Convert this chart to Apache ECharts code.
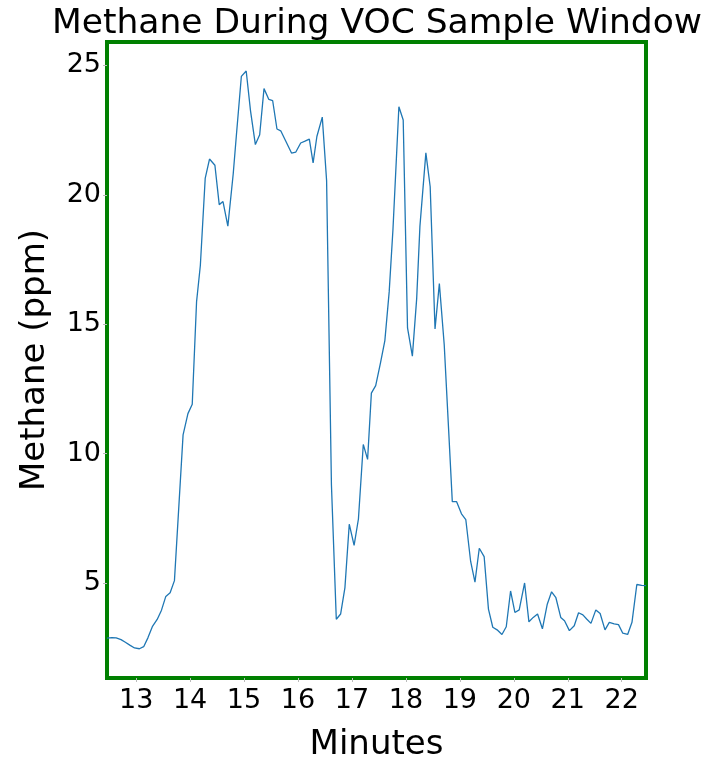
<!DOCTYPE html>
<html>
<head>
<meta charset="utf-8">
<script src="https://cdn.jsdelivr.net/npm/echarts@6/dist/echarts.min.js"></script>
<style>
html,body{margin:0;padding:0;background:#fff;}
#chart{width:710px;height:767px;}
</style>
</head>
<body>
<div id="chart"></div>
<script>
const minutes = [
  12.46, 12.55, 12.63, 12.72, 12.80, 12.89, 12.97, 13.06, 13.14, 13.22,
  13.30, 13.39, 13.47, 13.55, 13.63, 13.71, 13.87, 13.96, 14.04, 14.12,
  14.19, 14.28, 14.36, 14.46, 14.54, 14.61, 14.70, 14.80, 14.86, 14.95,
  15.04, 15.12, 15.21, 15.29, 15.37, 15.46, 15.53, 15.61, 15.68, 15.77,
  15.88, 15.96, 16.05, 16.13, 16.21, 16.28, 16.35, 16.45, 16.53, 16.62,
  16.71, 16.79, 16.87, 16.95, 17.04, 17.12, 17.21, 17.29, 17.36, 17.44,
  17.53, 17.61, 17.69, 17.76, 17.87, 17.95, 18.03, 18.12, 18.20, 18.26,
  18.37, 18.45, 18.54, 18.62, 18.71, 18.79, 18.86, 18.94, 19.03, 19.11,
  19.20, 19.28, 19.36, 19.45, 19.53, 19.61, 19.69, 19.78, 19.86, 19.94,
  20.02, 20.10, 20.20, 20.28, 20.36, 20.44, 20.53, 20.62, 20.70, 20.78,
  20.87, 20.94, 21.03, 21.12, 21.20, 21.28, 21.35, 21.43, 21.52, 21.60,
  21.69, 21.77, 21.86, 21.94, 22.02, 22.11, 22.19, 22.28, 22.37, 22.45
];
const methane = [
  2.88, 2.90, 2.89, 2.82, 2.72, 2.60, 2.50, 2.47, 2.55, 2.90,
  3.32, 3.60, 3.96, 4.49, 4.63, 5.10, 10.73, 11.55, 11.91, 15.87,
  17.27, 20.63, 21.38, 21.14, 19.62, 19.74, 18.79, 20.82, 22.35, 24.57,
  24.78, 23.24, 21.94, 22.32, 24.10, 23.68, 23.64, 22.54, 22.47, 22.09,
  21.61, 21.65, 22.00, 22.07, 22.15, 21.23, 22.25, 23.00, 20.55, 8.78,
  3.61, 3.81, 4.83, 7.28, 6.46, 7.48, 10.36, 9.78, 12.34, 12.63,
  13.52, 14.37, 16.25, 18.66, 23.40, 22.89, 14.86, 13.77, 16.00, 18.79,
  21.62, 20.31, 14.82, 16.57, 14.22, 11.00, 8.15, 8.15, 7.68, 7.46,
  5.84, 5.04, 6.35, 6.03, 4.00, 3.30, 3.20, 3.02, 3.32, 4.70,
  3.87, 3.97, 5.01, 3.51, 3.68, 3.81, 3.24, 4.19, 4.67, 4.44,
  3.68, 3.55, 3.17, 3.36, 3.86, 3.78, 3.62, 3.45, 3.97, 3.83,
  3.20, 3.49, 3.43, 3.40, 3.07, 3.02, 3.49, 4.95, 4.92, 4.91
];
const xTicks = [13, 14, 15, 16, 17, 18, 19, 20, 21, 22];
const yTicks = [5, 10, 15, 20, 25];

const chart = echarts.init(document.getElementById('chart'), null, {renderer: 'canvas'});
const font = 'DejaVu Sans';
chart.setOption({
  animation: false,
  backgroundColor: '#ffffff',
  title: {
    text: 'Methane During VOC Sample Window',
    left: 372,
    textAlign: 'center',
    top: 2,
    textStyle: {fontFamily: font, fontSize: 34.5, fontWeight: 'normal', color: '#000'}
  },
  grid: {
    left: 107, top: 42, width: 539, height: 645,
    show: true, borderColor: '#008000', borderWidth: 4, backgroundColor: 'transparent',
    containLabel: false
  },
  xAxis: {
    type: 'value',
    min: 12.46, max: 22.45,
    name: 'Minutes',
    nameLocation: 'middle',
    nameGap: 50,
    nameTextStyle: {fontFamily: font, fontSize: 34, color: '#000'},
    axisLine: {show: false},
    splitLine: {show: false},
    axisTick: {show: true, customValues: xTicks, length: 4, lineStyle: {color: '#bbbbbb', width: 1}},
    axisLabel: {customValues: xTicks, fontFamily: font, fontSize: 27, color: '#000', margin: 9}
  },
  yAxis: {
    type: 'value',
    min: 1.34, max: 25.9,
    name: 'Methane (ppm)',
    nameLocation: 'middle',
    nameGap: 55,
    nameTextStyle: {fontFamily: font, fontSize: 34, color: '#000'},
    axisLine: {show: false},
    splitLine: {show: false},
    axisTick: {show: true, customValues: yTicks, length: 4, lineStyle: {color: '#bbbbbb', width: 1}},
    axisLabel: {customValues: yTicks, fontFamily: font, fontSize: 27, color: '#000', margin: 6}
  },
  series: [{
    type: 'line',
    data: minutes.map((m, i) => [m, methane[i]]),
    showSymbol: false,
    symbol: 'none',
    lineStyle: {color: '#1f77b4', width: 1.3},
    clip: true
  }]
});
</script>
</body>
</html>
